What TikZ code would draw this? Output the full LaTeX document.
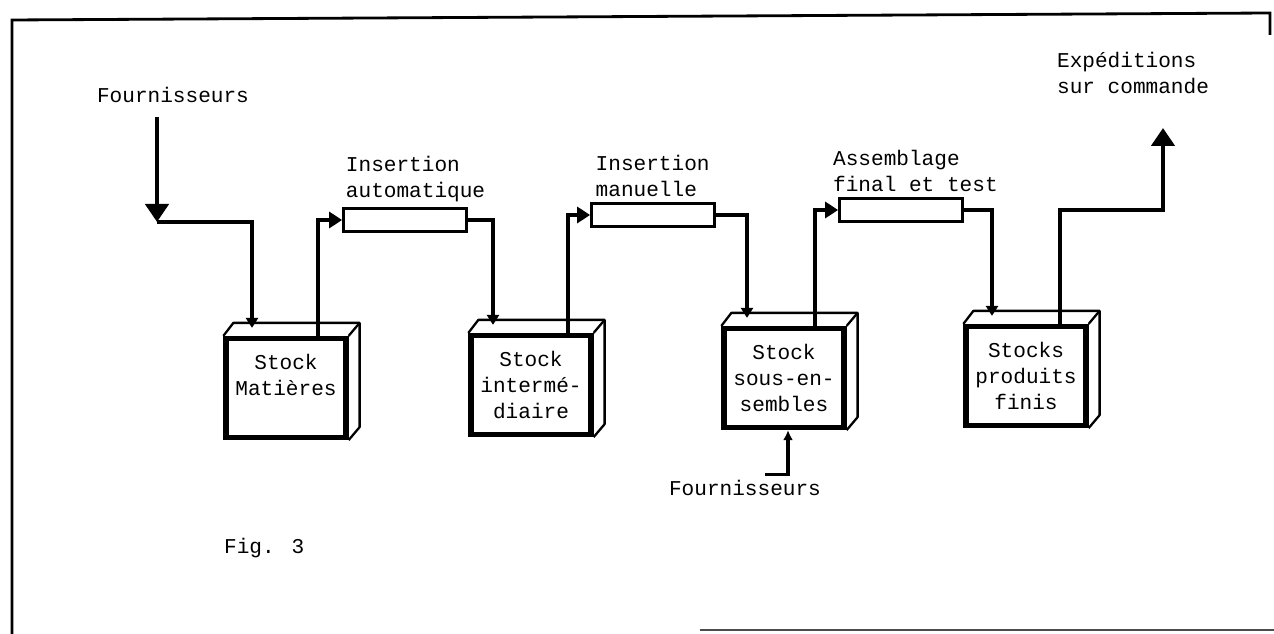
\documentclass[tikz,border=0pt]{standalone}
\usepackage{fontspec}
\setmainfont{Liberation Mono}
\usepackage{tikz}
\usetikzlibrary{arrows.meta,positioning,calc}
\tikzset{
  stock/.style   = {draw, line width=3pt, fill=white, minimum width=2.4cm,
                    minimum height=1.98cm, align=center, inner sep=2pt},
  machine/.style = {draw, line width=1.6pt, minimum width=2.46cm,
                    minimum height=0.46cm, inner sep=0pt},
  tag/.style     = {align=left, inner sep=1pt},
  face/.style    = {line width=1.3pt, line join=round},
  flow/.style    = {line width=2.8pt, -{Triangle[length=0.26cm,width=0.32cm]}},
  drop/.style    = {line width=2.8pt, -{Triangle[length=0.2cm,width=0.24cm]}},
  bigflow/.style = {line width=2.8pt, -{Triangle[length=0.36cm,width=0.46cm]}},
  feed/.style    = {line width=1.8pt, -{Latex[length=0.2cm,width=0.2cm]}},
  frame/.style   = {line width=1.6pt},
}
\newcommand{\boxdepth}[1]{%
  \draw[face] (#1.north west) -- ++(10,-13) -- ($(#1.north east)+(11,-13)$)
    -- ($(#1.south east)+(11,-13)$) -- (#1.south east);
  \draw[face] (#1.north east) -- ++(11,-13);}

\begin{document}
\begin{tikzpicture}[x=0.02cm,y=-0.02cm,font=\fontsize{12pt}{14.7pt}\selectfont]
\useasboundingbox (0,0) rectangle (1274,634);
% ---------- frame ----------
\draw[frame] (12,634) -- (12,20) -- (1270,13) -- (1270,35);
\draw[frame,black!70] (700,630) -- (1274,630);
% ---------- stocks ----------
\node[stock] (stockM) at (286,388) {Stock\\Matières\\\mbox{}};
\node[stock] (stockI) at (531,385) {Stock\\intermé-\\diaire};
\node[stock] (stockS) at (784,378) {Stock\\sous-en-\\sembles};
\node[stock] (stockP) at (1026,376) {Stocks\\produits\\finis};
\foreach \b in {stockM,stockI,stockS,stockP} {\boxdepth{\b}}
% ---------- machines ----------
\node[machine] (insA) at (405,220) {};
\node[machine] (insM) at (653,215) {};
\node[machine] (asmF) at (901,210) {};
\node[tag, above right=2pt and 1pt of insA.north west] (lblA) {Insertion\\automatique};
\node[tag, above right=2pt and 2pt of insM.north west] (lblM) {Insertion\\manuelle};
\node[tag, above right=2pt and -4pt of asmF.north west] (lblF) {Assemblage\\final et test};
% ---------- flows ----------
\node[tag] (supA) at (173,95) {Fournisseurs};
\coordinate (join) at (157,222);
\draw[bigflow] ($(supA.south)+(-16,12)$) -- (join);
\draw[drop] (join) -| ($(stockM.north)+(-34,-8)$);
\draw[flow] ($(stockM.north)+(32,0)$) |- (insA.west);
\draw[drop] (insA.east) -| ($(stockI.north)+(-38,-8)$);
\draw[flow] ($(stockI.north)+(37,0)$) |- (insM.west);
\draw[drop] (insM.east) -| ($(stockS.north)+(-37,-8)$);
\draw[flow] ($(stockS.north)+(31,0)$) |- (asmF.west);
\draw[drop] (asmF.east) -| ($(stockP.north)+(-34,-8)$);
\coordinate (ship) at (1163,128);
\draw[bigflow] ($(stockP.north)+(34,0)$) |- (asmF.east -| ship) -- (ship);
\node[tag, anchor=south west] (shipLbl) at (1055,96) {Expéditions\\sur commande};
% ---------- second supply ----------
\node[tag] (supB) at (745,488) {Fournisseurs};
\draw[feed] ($(supB.north)+(20,-4)$) -| ($(stockS.south)+(4,0)$);
\node[tag, anchor=west] (fig) at (222,548) {Fig. 3};
\end{tikzpicture}
\end{document}
